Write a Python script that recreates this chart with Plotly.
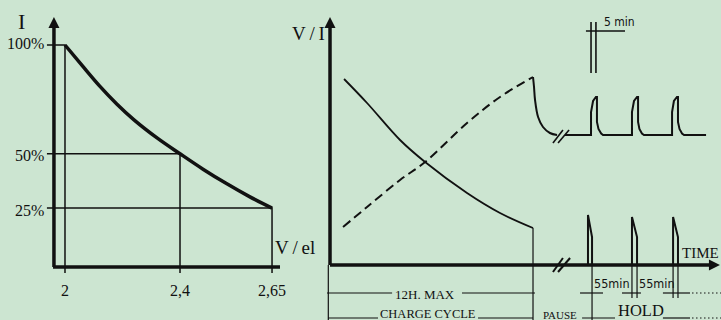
import plotly.graph_objects as go

BG = "#cce5d1"
INK = "#111111"
SERIF = "Liberation Serif, Times New Roman, serif"
NARROW = "Liberation Sans Narrow, DejaVu Sans Condensed, Arial Narrow, sans-serif"

# ---- left diagram: charge current vs cell voltage (voltage axis is schematic) ----
volt_labels = ["2", "2,4", "2,65"]
volt_pos = [0, 1, 1.8]
current_pct = [100, 50, 25]
pct_labels = ["100%", "50%", "25%"]
curve_pos = [0, 0.15, 0.3, 0.45, 0.6, 0.8, 1, 1.2, 1.4, 1.6, 1.8]
curve_pct = [100, 90.5, 81.2, 72.9, 65.6, 57.3, 50, 42.9, 36.4, 30.4, 25]

# ---- right diagram: charge cycle, pause and hold over time (hours, schematic) ----
cur_t = [0.83, 2.19, 4.14, 5.62, 8.10, 10.05, 12.0]
cur_v = [74.4, 64.8, 50, 41.2, 28.8, 20.8, 14.8]
volt_t = [0.77, 2.19, 4.14, 5.62, 8.10, 10.05, 12.0]
volt_v = [15.2, 23.2, 34, 41.2, 56.8, 67.2, 75.2]
drop_t = [12.0, 12.06, 12.12, 12.30, 12.59, 13.0, 13.42]
drop_v = [75.2, 71.2, 66, 59.2, 55.2, 52.8, 52]
float_t = [13.89, 15.43, 15.43, 15.55, 15.72, 15.78, 15.78, 15.87, 16.03, 16.14,
           17.85, 17.85, 17.97, 18.15, 18.21, 18.21, 18.29, 18.44, 18.56,
           20.22, 20.22, 20.33, 20.51, 20.57, 20.57, 20.66, 20.81, 20.93, 22.23]
float_v = [52, 52, 61.2, 65.6, 67.2, 67.2, 57.2, 54.4, 52.6, 52,
           52, 61.2, 65.6, 67.2, 67.2, 57.2, 54.4, 52.6, 52,
           52, 61.2, 65.6, 67.2, 67.2, 57.2, 54.4, 52.6, 52, 52]
pulse_t = [15.25, 15.25, 15.49, 15.49, None, 17.85, 17.85, 18.15, 18.15, None,
           20.28, 20.28, 20.57, 20.57]
pulse_v = [0, 20, 11.2, 0, None, 0, 19.2, 11.2, 0, None, 0, 19.2, 11.2, 0]
# marker lines below the time axis
mark_t = [-0.1, -0.1, None, 12.0, 12.0, None, 15.49, 15.49, None, 17.85, 17.85, None,
          18.15, 18.15, None, 20.28, 20.28, None, 20.57, 20.57]
mark_v = [0, -22, None, 14.8, -22, None, 0, -22, None, 0, -13.2, None,
          0, -13.2, None, 0, -13.2, None, 0, -13.2]
# dimension rows: (start, end) pairs
row1_level = -11.2
row1_segs = [(-0.18, 3.67), (7.80, 12.12), (14.78, 16.14), (17.26, 18.38), (19.68, 21.28)]
row2_level = -21.2
row2_segs = [(-0.12, 2.84), (8.75, 12.0), (14.90, 16.85), (19.68, 21.28)]
dotted_t = [21.40, 23.11]
five_min_t = [15.43, 15.72]

fig = go.Figure()


def line(x, y, width=1.3, dash="solid", shape="linear", right=False):
    fig.add_trace(go.Scatter(
        x=x, y=y, mode="lines", hoverinfo="skip", cliponaxis=False,
        line=dict(color=INK, width=width, dash=dash, shape=shape),
        xaxis="x2" if right else "x", yaxis="y2" if right else "y"))


def arrow(x, y, symbol, right=False):
    fig.add_trace(go.Scatter(
        x=[x], y=[y], mode="markers", hoverinfo="skip", cliponaxis=False,
        marker=dict(symbol=symbol, size=11, color=INK, line=dict(width=0)),
        xaxis="x2" if right else "x", yaxis="y2" if right else "y"))


# left: guides
gx, gy = [], []
for p, c in zip(volt_pos, current_pct):
    gx += [-0.157, p, p, None]
    gy += [c, c, -4.83, None]
line(gx, gy, width=1.5)
line(curve_pos, curve_pct, width=3.5, shape="spline")
# left axes
line([-0.096, -0.096], [-2.07, 109], width=3.5)
arrow(-0.096, 112.9, "arrow-up")
line([-0.104, 2.0], [-2.07, -2.07], width=3.5)
arrow(2.087, -2.07, "arrow-right")

# right: curves
line(cur_t, cur_v, width=1.8, shape="spline", right=True)
line(volt_t, volt_v, width=2, dash="9px,5px", shape="spline", right=True)
line(drop_t, drop_v, width=2, shape="spline", right=True)
line(float_t, float_v, width=2, right=True)
line(pulse_t, pulse_v, width=2, right=True)
line(mark_t, mark_v, width=1.2, right=True)
# break marks
line([13.18, 13.77, None, 13.48, 14.19], [-2.8, 2.8, None, -2.8, 2.8], width=2, right=True)
line([13.18, 13.77, None, 13.48, 14.13], [48.8, 54, None, 48.8, 54], width=1.6, right=True)
# 5 min marker
line([five_min_t[0], five_min_t[0], None, five_min_t[1], five_min_t[1], None, 15.13, 17.44],
     [97.2, 76.8, None, 97.2, 76.8, None, 93.6, 93.6], width=1.6, right=True)
# dimension rows
for level, segs in [(row1_level, row1_segs), (row2_level, row2_segs)]:
    sx, sy = [], []
    for a, b in segs:
        sx += [a, b, None]
        sy += [level, level, None]
    line(sx, sy, width=1.2, right=True)
    line(dotted_t, [level, level], width=1, dash="1.5px,2.5px", right=True)
# right axes
line([0, 0], [0, 96], width=3.5, right=True)
arrow(0, 99.2, "arrow-up", right=True)
line([0, 22.5], [0, 0], width=3.5, right=True)
arrow(23.05, 0, "arrow-right", right=True)

ann = []


def text(x, y, s, size, font=SERIF, xanchor="center", right=False):
    ann.append(dict(x=x, y=y, text=s, showarrow=False, xanchor=xanchor, yanchor="middle",
                    xref="x2" if right else "x", yref="y2" if right else "y",
                    font=dict(family=font, size=size, color=INK)))


text(-0.374, 110.6, "I", 22)
for c, lab in zip(current_pct, pct_labels):
    text(-0.165, c + 0.6 if c == 100 else c - 1, lab, 16, xanchor="right")
for p, lab in zip(volt_pos, volt_labels):
    text(p, -13.1, lab, 16)
text(2.0, 6.67, "V\u2009/\u2009el", 19)

text(-0.15, 92.8, "V\u2009/\u2009I", 19, xanchor="right", right=True)
text(23.1, 5.0, "TIME", 15, xanchor="right", right=True)
text(16.08, 97.2, "5 min", 12, font=NARROW, xanchor="left", right=True)
text(16.67, -7.2, "55min", 12.5, font=NARROW, right=True)
text(19.33, -7.2, "55min", 12.5, font=NARROW, right=True)
text(5.62, -11.6, "12H. MAX", 13, right=True)
text(5.79, -19.4, "CHARGE CYCLE", 12.5, right=True)
text(13.6, -20.0, "PAUSE", 11, right=True)
text(18.38, -18.3, "HOLD", 16.5, right=True)

hidden = dict(visible=False, fixedrange=True)
fig.update_layout(
    width=721, height=320,
    margin=dict(l=0, r=0, t=0, b=0),
    paper_bgcolor=BG, plot_bgcolor=BG,
    showlegend=False,
    annotations=ann,
    xaxis=dict(domain=[0, 320 / 721], range=[-0.565, 2.217], **hidden),
    yaxis=dict(domain=[0, 1], range=[-26.44, 120.69], **hidden),
    xaxis2=dict(domain=[280 / 721, 1], range=[-2.956, 23.113], anchor="y2", **hidden),
    yaxis2=dict(domain=[0, 1], range=[-22, 106], anchor="x2", **hidden),
)

fig.write_html("out.html", config={"displayModeBar": False},
               post_script="document.body.style.margin='0';document.body.style.overflow='hidden';")
